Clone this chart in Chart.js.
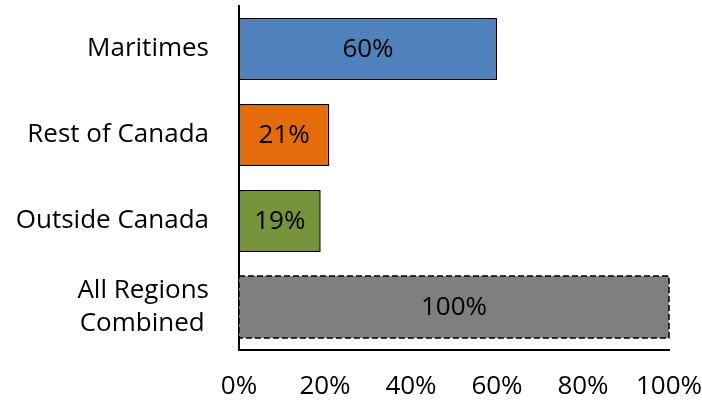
<!DOCTYPE html>
<html>
<head>
<meta charset="utf-8">
<script src="https://cdn.jsdelivr.net/npm/chart.js@4.4.1/dist/chart.umd.min.js"></script>
<style>
  html, body { margin: 0; padding: 0; background: #fff; }
  #wrap { width: 702px; height: 402px; }
</style>
</head>
<body>
<div id="wrap"><canvas id="regionChart"></canvas></div>
<script>
// Données du graphique
const regions = ['Maritimes', 'Rest of Canada', 'Outside Canada', ['All Regions', 'Combined\u2009']];
const shares = [60, 21, 19, 100];
const barColors = ['#4F81BD', '#E46C0A', '#77933C', '#7F7F7F'];
const xTicks = [0, 20, 40, 60, 80, 100];

const FONT = '"Open Sans", "Noto Sans", sans-serif';

// Étiquettes de valeur + bordure pointillée de la dernière barre
const barLabels = {
    id: 'barLabels',
    afterDatasetsDraw(chart) {
        const ctx = chart.ctx;
        const meta = chart.getDatasetMeta(0);
        ctx.save();
        meta.data.forEach((bar, i) => {
            if (i === meta.data.length - 1) {
                const h = bar.height;
                ctx.strokeStyle = '#000';
                ctx.lineWidth = 1.5;
                ctx.setLineDash([6, 3]);
                ctx.strokeRect(bar.base, bar.y - h / 2, bar.x - bar.base, h);
                ctx.setLineDash([]);
            }
            ctx.fillStyle = '#000';
            ctx.font = '26px ' + FONT;
            ctx.textAlign = 'center';
            ctx.textBaseline = 'middle';
            ctx.fillText(shares[i] + '%', (bar.x + bar.base) / 2, bar.y + 1);
        });
        ctx.restore();
    }
};

const chartCtx = document.getElementById('regionChart').getContext('2d');
new Chart(chartCtx, {
    type: 'bar',
    data: {
        labels: regions,
        datasets: [{
            data: shares,
            backgroundColor: barColors,
            borderColor: ['#000', '#000', '#000', 'rgba(0,0,0,0)'],
            borderWidth: [1.5, 1.5, 1.5, 0],
            borderSkipped: false,
            barPercentage: 0.72,
            categoryPercentage: 1
        }]
    },
    options: {
        indexAxis: 'y',
        responsive: true,
        maintainAspectRatio: false,
        animation: false,
        layout: { padding: { left: 0, right: 33, top: 6, bottom: 0 } },
        plugins: {
            legend: { display: false },
            tooltip: { enabled: false }
        },
        scales: {
            x: {
                min: 0,
                max: 100,
                afterBuildTicks: (scale) => { scale.ticks = xTicks.map(v => ({ value: v })); },
                afterFit: (scale) => {
                    scale.height = 52;
                    scale.paddingLeft = 0;
                    scale.paddingRight = 0;
                },
                grid: { display: false, drawTicks: false },
                border: { display: true, color: '#000', width: 2 },
                ticks: {
                    padding: 21,
                    color: '#000',
                    maxRotation: 0,
                    font: { family: FONT, size: 26 },
                    callback: (v) => v + '%'
                }
            },
            y: {
                afterFit: (scale) => {
                    scale.width = 239;
                    scale.paddingTop = 0;
                    scale.paddingBottom = 0;
                },
                grid: { display: false, drawTicks: false },
                border: { display: true, color: '#000', width: 2 },
                ticks: {
                    padding: 30,
                    color: '#000',
                    font: { family: FONT, size: 26, lineHeight: 1.27 }
                }
            }
        }
    },
    plugins: [barLabels]
});
</script>
</body>
</html>
